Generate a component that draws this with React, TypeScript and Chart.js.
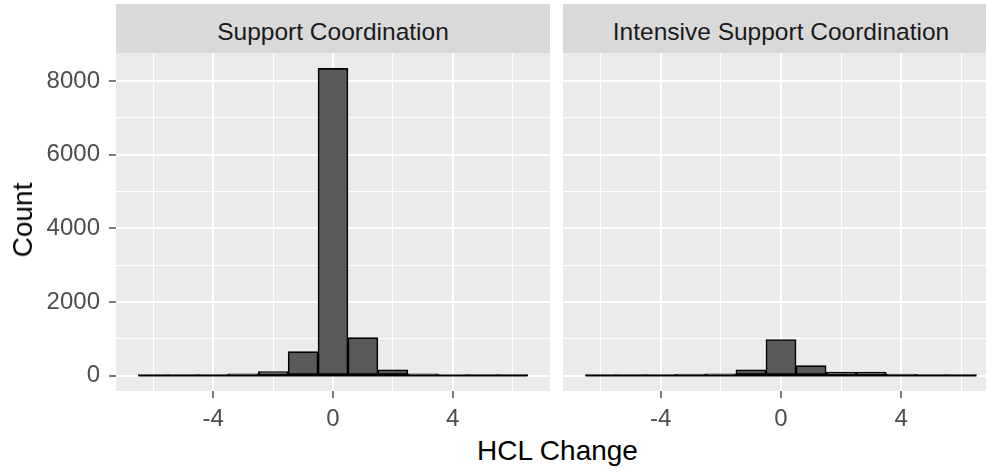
import React, { useEffect, useRef } from "react";
import { Chart, registerables } from "chart.js";

Chart.register(...registerables);

// ---- data ----
const binCenters = [-6, -5, -4, -3, -2, -1, 0, 1, 2, 3, 4, 5, 6];
const supportCounts = [2, 3, 8, 50, 110, 650, 8340, 1030, 160, 50, 10, 3, 2];
const intensiveCounts = [2, 3, 8, 45, 50, 160, 980, 270, 95, 95, 45, 8, 3];
const panelTitles = ["Support Coordination", "Intensive Support Coordination"];
const xMajorTicks = [-4, 0, 4];
const xMinorTicks = [-6, -2, 2, 6];
const yMajorTicks = [0, 2000, 4000, 6000, 8000];
const yMinorTicks = [1000, 3000, 5000, 7000];
const xTitle = "HCL Change";
const yTitle = "Count";

const FONT = "'Liberation Sans', Arial, Helvetica, sans-serif";
const X_LIMIT = 7.25;

const panelBg = {
  id: "panelBg",
  beforeDraw(chart: any) {
    const { ctx, chartArea: a } = chart;
    ctx.save();
    ctx.fillStyle = "#EBEBEB";
    ctx.fillRect(a.left, a.top, a.right - a.left, a.bottom - a.top);
    ctx.restore();
  },
};

function buildConfig(counts: number[], showY: boolean): any {
  const bars = binCenters.map((x, i) => ({ x, y: counts[i] }));
  const baseline = [
    { x: binCenters[0] - 0.5, y: 0 },
    { x: binCenters[binCenters.length - 1] + 0.5, y: 0 },
  ];
  const maxC = Math.max(...supportCounts, ...intensiveCounts);
  const yMin = -0.05 * maxC;
  const yMax = 1.05 * maxC;
  const xTicks = [...xMinorTicks, ...xMajorTicks].sort((a, b) => a - b);
  const yTicks = [...yMinorTicks, ...yMajorTicks].sort((a, b) => a - b);
  return {
    type: "bar",
    data: {
      datasets: [
        {
          type: "bar",
          data: bars,
          backgroundColor: "#595959",
          borderColor: "#000000",
          borderWidth: 1.6,
          borderSkipped: false,
          barPercentage: 1,
          categoryPercentage: 1,
          order: 1,
        },
        {
          type: "line",
          data: baseline,
          borderColor: "#000000",
          borderWidth: 1.6,
          pointRadius: 0,
          fill: false,
          order: 0,
        },
      ],
    },
    options: {
      animation: false,
      responsive: false,
      events: [],
      layout: { padding: 0 },
      plugins: {
        legend: { display: false },
        tooltip: { enabled: false },
        title: { display: false },
      },
      scales: {
        x: {
          type: "linear",
          min: -X_LIMIT,
          max: X_LIMIT,
          offset: false,
          afterBuildTicks: (s: any) => {
            s.ticks = xTicks.map((v) => ({ value: v }));
          },
          afterFit: (s: any) => {
            s.height = 39;
            s.paddingLeft = 0;
            s.paddingRight = 0;
            s.paddingTop = 0;
            s.paddingBottom = 0;
          },
          ticks: {
            autoSkip: false,
            maxRotation: 0,
            minRotation: 0,
            padding: 7,
            color: "#4D4D4D",
            font: { family: FONT, size: 24 },
            callback: (v: number) => (xMajorTicks.includes(v) ? String(v) : ""),
          },
          grid: {
            offset: false,
            color: "#FFFFFF",
            lineWidth: (ctx: any) =>
              ctx.tick && xMajorTicks.includes(ctx.tick.value) ? 2 : 1,
            drawTicks: true,
            tickLength: 7,
            tickColor: (ctx: any) =>
              ctx.tick && xMajorTicks.includes(ctx.tick.value) ? "#333333" : "rgba(0,0,0,0)",
            tickWidth: 1.3,
          },
          border: { display: false },
        },
        y: {
          type: "linear",
          min: yMin,
          max: yMax,
          afterBuildTicks: (s: any) => {
            s.ticks = yTicks.map((v) => ({ value: v }));
          },
          afterFit: (s: any) => {
            s.width = showY ? 116 : 0;
            s.paddingTop = 0;
            s.paddingBottom = 0;
            s.paddingLeft = 0;
            s.paddingRight = 0;
          },
          ticks: {
            display: showY,
            autoSkip: false,
            padding: 9,
            color: "#4D4D4D",
            font: { family: FONT, size: 24 },
            callback: (v: number) => (yMajorTicks.includes(v) ? String(v) : ""),
          },
          grid: {
            color: "#FFFFFF",
            lineWidth: (ctx: any) =>
              ctx.tick && yMajorTicks.includes(ctx.tick.value) ? 2 : 1,
            drawTicks: showY,
            tickLength: 7,
            tickColor: (ctx: any) =>
              ctx.tick && yMajorTicks.includes(ctx.tick.value) ? "#333333" : "rgba(0,0,0,0)",
            tickWidth: 1.3,
          },
          border: { display: false },
        },
      },
    },
    plugins: [panelBg],
  };
}

function Panel(props: {
  counts: number[];
  showY: boolean;
  left: number;
  top: number;
  width: number;
  height: number;
}) {
  const ref = useRef<HTMLCanvasElement | null>(null);
  useEffect(() => {
    if (!ref.current) return;
    const chart = new Chart(ref.current, buildConfig(props.counts, props.showY));
    return () => chart.destroy();
  }, []);
  return (
    <canvas
      ref={ref}
      width={props.width}
      height={props.height}
      style={{
        position: "absolute",
        left: props.left,
        top: props.top,
        width: props.width,
        height: props.height,
      }}
    />
  );
}

const stripStyle = (left: number, width: number): React.CSSProperties => ({
  position: "absolute",
  left,
  top: 4,
  width,
  height: 49,
  background: "#D9D9D9",
  color: "#1A1A1A",
  fontFamily: FONT,
  fontSize: 24.5,
  display: "flex",
  alignItems: "center",
  justifyContent: "center",
  boxSizing: "border-box",
  paddingTop: 6,
  whiteSpace: "nowrap",
});

export default function App() {
  return (
    <div
      style={{
        position: "absolute",
        left: 0,
        top: 0,
        width: 986,
        height: 472,
        overflow: "hidden",
        background: "#FFFFFF",
      }}
    >
      <div style={stripStyle(116, 434)}>{panelTitles[0]}</div>
      <div style={stripStyle(563, 436)}>{panelTitles[1]}</div>
      <Panel counts={supportCounts} showY={true} left={0} top={53} width={550} height={377} />
      <Panel counts={intensiveCounts} showY={false} left={563} top={53} width={436} height={377} />
      <div
        style={{
          position: "absolute",
          left: 22.5,
          top: 219.5,
          transform: "translate(-50%, -50%) rotate(-90deg)",
          fontFamily: FONT,
          fontSize: 28,
          color: "#000000",
          whiteSpace: "nowrap",
          lineHeight: 1,
        }}
      >
        {yTitle}
      </div>
      <div
        style={{
          position: "absolute",
          left: 557.5,
          top: 451,
          transform: "translate(-50%, -50%)",
          fontFamily: FONT,
          fontSize: 28,
          color: "#000000",
          whiteSpace: "nowrap",
          lineHeight: 1,
        }}
      >
        {xTitle}
      </div>
    </div>
  );
}
